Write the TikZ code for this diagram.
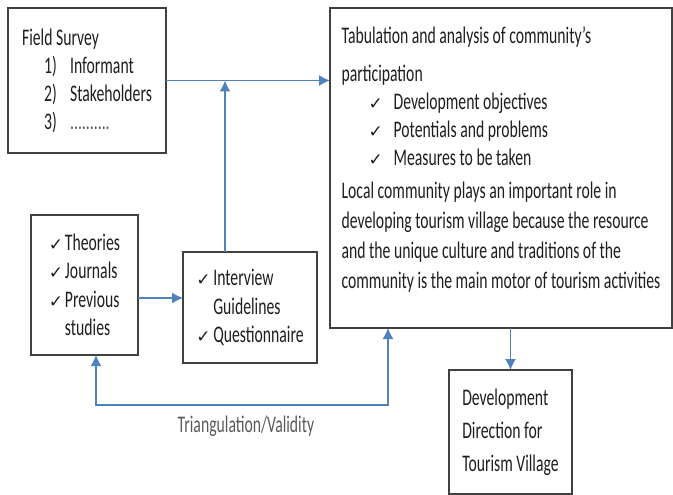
\documentclass[tikz,border=0pt]{standalone}
\usepackage{fontspec}
\setmainfont{Carlito}[FakeStretch=0.66]
\newfontfamily\tickfont{DejaVu Sans}
\usetikzlibrary{shapes,arrows,arrows.meta,positioning}
\definecolor{linkblue}{RGB}{79,129,189}
\definecolor{boxgray}{RGB}{64,64,64}
\definecolor{textgray}{RGB}{30,30,30}
\definecolor{labelgray}{RGB}{90,90,90}
\newcommand{\tick}{{\tickfont\fontsize{17}{17}\selectfont ✓}}

\begin{document}
\begin{tikzpicture}[font=\fontsize{23.8}{28}\selectfont, x=1pt, y=1pt,
    box/.style={draw=boxgray, line width=1.2pt, text=textgray,
        align=left, inner sep=5pt, outer sep=0pt},
    link/.style={draw=linkblue, line width=1.5pt},
    tip/.tip={Latex[length=11pt,width=11pt]}]

\useasboundingbox (0,0) rectangle (673,-495);

% Field survey
\node[box,
    minimum width=158pt,
    minimum height=145pt] (block1) at (87,-80.5) {Field Survey\\
    \hspace*{22pt}\makebox[26pt][l]{1)}Informant\\
    \hspace*{22pt}\makebox[26pt][l]{2)}Stakeholders\\
    \hspace*{22pt}\makebox[26pt][l]{3)}\textcolor{labelgray}{..........}};

% Tabulation and analysis
\node[box,
    right=164pt of block1.north east,
    anchor=north west,
    minimum width=342pt,
    minimum height=320pt] (block2) {Tabulation and analysis of community's\\[10pt]
    participation\\
    \hspace*{27pt}\makebox[25pt][l]{\tick}Development objectives\\
    \hspace*{27pt}\makebox[25pt][l]{\tick}Potentials and problems\\
    \hspace*{27pt}\makebox[25pt][l]{\tick}Measures to be taken\\[5pt]
    Local community plays an important role in\\[2pt]
    developing tourism village because the resource\\[2pt]
    and the unique culture and traditions of the\\[2pt]
    community is the main motor of tourism activities\\[-7pt]
    \mbox{}};

% Literature
\node[box,
    below=62pt of block1.south west,
    anchor=north west,
    xshift=23pt,
    minimum width=107pt,
    minimum height=140pt] (block3) {\makebox[16pt][l]{\tick}Theories\\[0.5pt]
    \makebox[16pt][l]{\tick}Journals\\[0.5pt]
    \makebox[16pt][l]{\tick}Previous\\[0.5pt]
    \hspace*{16pt}studies};

% Instruments
\node[box,
    right=45pt of block3.north east,
    anchor=north west,
    yshift=-37pt,
    minimum width=134pt,
    minimum height=111pt] (block4) {\makebox[17pt][l]{\tick}Interview\\[0.5pt]
    \hspace*{17pt}Guidelines\\[0.5pt]
    \makebox[17pt][l]{\tick}Questionnaire};

% Development direction
\node[box,
    below=42pt of block2.south,
    anchor=north,
    xshift=9.5pt,
    minimum width=123pt,
    minimum height=124pt] (block5) {Development\\[5pt]
    Direction for\\[5pt]
    Tourism Village};

\node[coordinate, below=50pt of block3.south, xshift=11.5pt] (block6) {};
\node[coordinate, below=13pt of block3.east] (block7) {};
\node[coordinate, left=25pt of block4.north] (block8) {};
\node[coordinate, left=113pt of block2.south] (block9) {};

% Arrows
\draw[-tip, link] (block1.east) -- (block1.east -| block2.west);

\draw[-tip, link] (block8) -- (block8 |- block1.east);

\draw[-tip, link] (block7) -- (block7 -| block4.west);

\draw[-tip, link] (block2.south -| block5.north) -- (block5.north);

\draw[tip-tip, link] (block3.south -| block6) -- (block6) -| (block9)
    node[pos=0.25, below=7pt, xshift=4pt, text=labelgray]{Triangulation/Validity};

\end{tikzpicture}
\end{document}
